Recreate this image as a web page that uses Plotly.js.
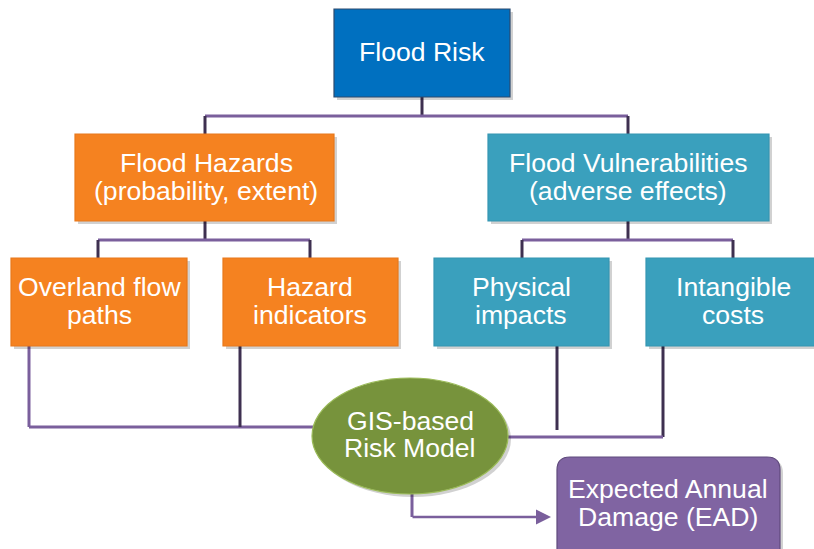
<!DOCTYPE html>
<html>
<head>
<meta charset="utf-8">
<script src="https://cdn.plot.ly/plotly-3.0.1.min.js"></script>
<style>html,body{margin:0;padding:0;background:#fff}#chart{width:814px;height:549px}</style>
</head>
<body>
<div id="chart"></div>
<script>
// ---- Diagram content (text) ----
const nodeNames = ["Flood Risk", "Flood Hazards", "Flood Vulnerabilities", "Overland flow paths",
                   "Hazard indicators", "Physical impacts", "Intangible costs", "GIS-based Risk Model",
                   "Expected Annual Damage (EAD)"];
const nodeLines = [
  ["Flood Risk"],
  ["Flood Hazards", "(probability, extent)"],
  ["Flood Vulnerabilities", "(adverse effects)"],
  ["Overland flow", "paths"],
  ["Hazard", "indicators"],
  ["Physical", "impacts"],
  ["Intangible", "costs"],
  ["GIS-based", "Risk Model"],
  ["Expected Annual", "Damage (EAD)"]
];
const nodeKinds = ["rect", "rect", "rect", "rect", "rect", "rect", "rect", "ellipse", "rounded"];

// ---- Geometry (pixel coordinates, separate from content) ----
const nodeBoxes = [
  [334, 9, 510, 97],
  [75, 134, 334, 221],
  [488, 134, 769, 221],
  [11, 258, 187, 346],
  [223, 258, 398, 346],
  [434, 258, 609, 346],
  [646, 258, 822, 346],
  [312, 378, 508, 494],
  [557, 457, 780, 566]
];
const textCenters = [
  [422, [52]],
  [206, [163, 191]],
  [628, [163, 191]],
  [99, [287, 315]],
  [310, [287, 315]],
  [521, [287, 315]],
  [733, [287, 315]],
  [410, [421, 448]],
  [668, [489, 517]]
];
// ---- Styles ----
const nodeFill = ["#0070C0", "#F58220", "#3AA0BD", "#F58220", "#F58220", "#3AA0BD", "#3AA0BD", "#77933C", "#8064A2"];
const nodeEdge = ["#2C4A6E", "#E8791C", "#3596B2", "#E8791C", "#E8791C", "#3596B2", "#3596B2", "#9BBB59", "#5F4A7C"];
const darkLine = "#3E3050";
const purpleLine = "#7A5F9C";
const connectors = [
  [422, 97, 422, 116, darkLine],
  [205, 116, 628, 116, purpleLine],
  [205, 116, 205, 134, darkLine],
  [628, 116, 628, 134, darkLine],
  [205, 221, 205, 240, darkLine],
  [628, 221, 628, 240, darkLine],
  [98, 240, 310, 240, purpleLine],
  [522, 240, 733, 240, purpleLine],
  [98, 240, 98, 258, darkLine],
  [310, 240, 310, 258, darkLine],
  [522, 240, 522, 258, darkLine],
  [733, 240, 733, 258, darkLine],
  [29, 346, 29, 427, purpleLine],
  [29, 427, 330, 427, purpleLine],
  [240, 346, 240, 427, darkLine],
  [557, 346, 557, 430, darkLine],
  [663, 346, 663, 437, darkLine],
  [490, 437, 663, 437, purpleLine],
  [412, 494, 412, 517, purpleLine]
];

function roundedPath(x0, y0, x1, y1, r) {
  return `M${x0 + r},${y0} L${x1 - r},${y0} Q${x1},${y0} ${x1},${y0 + r} L${x1},${y1 - r} Q${x1},${y1} ${x1 - r},${y1} ` +
         `L${x0 + r},${y1} Q${x0},${y1} ${x0},${y1 - r} L${x0},${y0 + r} Q${x0},${y0} ${x0 + r},${y0} Z`;
}

const shapes = [];
connectors.forEach(c => {
  shapes.push({type: "line", xref: "x", yref: "y", x0: c[0], y0: c[1], x1: c[2], y1: c[3],
               line: {color: c[4], width: 3}});
});
// shadows
nodeBoxes.forEach((b, i) => {
  const o = 3;
  const base = {xref: "x", yref: "y", fillcolor: "rgba(0,0,0,0.18)", line: {width: 0}};
  if (nodeKinds[i] === "ellipse") {
    shapes.push(Object.assign({type: "circle", x0: b[0] + o, y0: b[1] + o, x1: b[2] + o, y1: b[3] + o}, base));
  } else if (nodeKinds[i] === "rounded") {
    shapes.push(Object.assign({type: "path", path: roundedPath(b[0] + o, b[1] + o, b[2] + o, b[3] + o, 13)}, base));
  } else {
    shapes.push(Object.assign({type: "rect", x0: b[0] + o, y0: b[1] + o, x1: b[2] + o, y1: b[3] + o}, base));
  }
});
// boxes
nodeBoxes.forEach((b, i) => {
  const base = {xref: "x", yref: "y", fillcolor: nodeFill[i], line: {color: nodeEdge[i], width: 1.2}};
  if (nodeKinds[i] === "ellipse") {
    shapes.push(Object.assign({type: "circle", x0: b[0], y0: b[1], x1: b[2], y1: b[3]}, base));
  } else if (nodeKinds[i] === "rounded") {
    shapes.push(Object.assign({type: "path", path: roundedPath(b[0], b[1], b[2], b[3], 13)}, base));
  } else {
    shapes.push(Object.assign({type: "rect", x0: b[0], y0: b[1], x1: b[2], y1: b[3]}, base));
  }
});

const annotations = [];
nodeLines.forEach((lines, i) => {
  lines.forEach((t, j) => {
    annotations.push({
      x: textCenters[i][0], y: textCenters[i][1][j], xref: "x", yref: "y",
      text: t, showarrow: false, xanchor: "center", yanchor: "middle",
      font: {family: "Liberation Sans, Arial, sans-serif", size: 26.6, color: "#FFFFFF"}
    });
  });
});
// arrow to EAD
annotations.push({
  x: 551, y: 517, ax: 411, ay: 517, xref: "x", yref: "y", axref: "x", ayref: "y",
  text: "", showarrow: true, arrowhead: 2, arrowsize: 1.2, arrowwidth: 2.5, arrowcolor: purpleLine
});

const layout = {
  width: 814, height: 549,
  margin: {l: 0, r: 0, t: 0, b: 0},
  paper_bgcolor: "#FFFFFF", plot_bgcolor: "#FFFFFF",
  xaxis: {range: [0, 814], visible: false, fixedrange: true},
  yaxis: {range: [549, 0], visible: false, fixedrange: true},
  shapes: shapes,
  annotations: annotations,
  showlegend: false
};
Plotly.newPlot("chart", [{x: [], y: [], type: "scatter", hoverinfo: "skip"}], layout,
  {staticPlot: true, displayModeBar: false});
</script>
</body>
</html>
